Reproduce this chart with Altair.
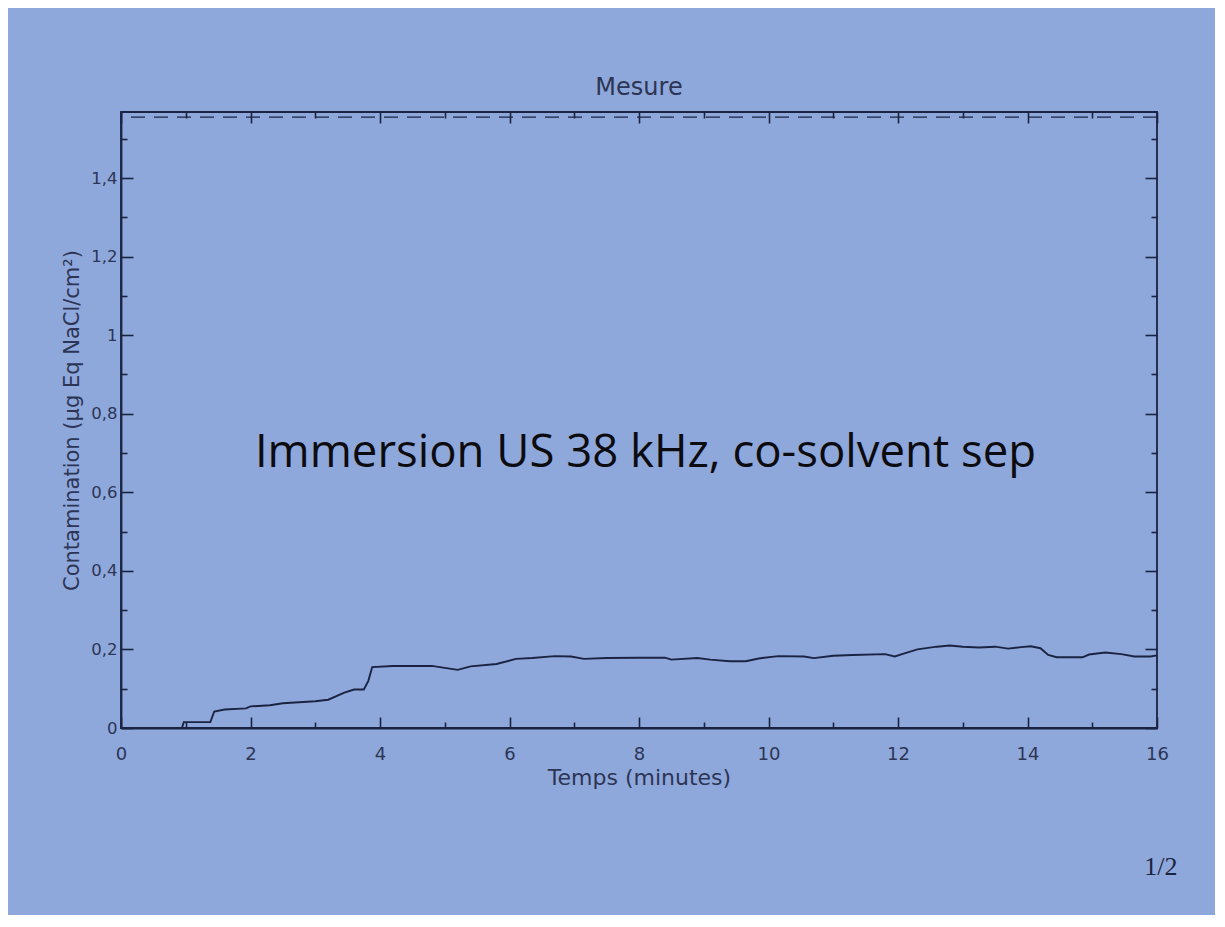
import altair as alt
import pandas as pd

# ---------------- data ----------------
time_min = [0.0, 0.5, 0.94, 0.97, 1.38, 1.44, 1.6, 1.93, 2.0, 2.3, 2.5, 3.0, 3.2, 3.45,
            3.6, 3.75, 3.82, 3.88, 4.2, 4.8, 5.0, 5.2, 5.4, 5.8, 6.1, 6.35, 6.7, 6.95,
            7.15, 7.5, 8.0, 8.4, 8.5, 8.9, 9.1, 9.4, 9.65, 9.85, 10.15, 10.55, 10.7,
            11.0, 11.3, 11.8, 11.95, 12.1, 12.3, 12.6, 12.8, 13.0, 13.25, 13.5, 13.7,
            13.9, 14.05, 14.2, 14.32, 14.45, 14.85, 14.95, 15.2, 15.45, 15.65, 15.9, 16.0]
contamination = [0.0, 0.0, 0.0, 0.015, 0.015, 0.042, 0.047, 0.05, 0.055, 0.058, 0.063,
                 0.068, 0.072, 0.09, 0.098, 0.098, 0.12, 0.155, 0.158, 0.158, 0.153,
                 0.148, 0.157, 0.163, 0.176, 0.178, 0.183, 0.182, 0.176, 0.178, 0.179,
                 0.179, 0.174, 0.178, 0.174, 0.17, 0.17, 0.177, 0.183, 0.182, 0.178,
                 0.184, 0.186, 0.188, 0.182, 0.19, 0.2, 0.207, 0.21, 0.207, 0.205,
                 0.207, 0.202, 0.206, 0.208, 0.203, 0.186, 0.18, 0.18, 0.187, 0.192,
                 0.188, 0.182, 0.182, 0.185]
x_major = [0, 2, 4, 6, 8, 10, 12, 14, 16]
x_minor = [1, 3, 5, 7, 9, 11, 13, 15]
y_major = [0, 0.2, 0.4, 0.6, 0.8, 1.0, 1.2, 1.4]
y_minor = [0.1, 0.3, 0.5, 0.7, 0.9, 1.1, 1.3, 1.5]
threshold = [1.555]
chart_title = "Mesure"
x_title = "Temps (minutes)"
y_title = "Contamination (µg Eq NaCl/cm²)"
annotation = ["Immersion US 38 kHz, co-solvent sep"]
page_label = ["1/2"]

df = pd.DataFrame({"t": time_min, "v": contamination})

W, H = 1036, 616
INK = "#1b2342"
LABEL = "#2c3555"
BG = "#8fa8db"
FONT = "DejaVu Sans"

xs = alt.Scale(domain=[0, 16], nice=False, zero=False)
ys = alt.Scale(domain=[0, 1.568], nice=False, zero=False)


def tick_axis(orient, values, size, offset):
    return alt.Axis(orient=orient, values=values, tickSize=size, offset=offset,
                    labels=False, domain=False, grid=False, title=None, ticks=True,
                    tickColor=INK, tickWidth=1.6)


main = alt.Chart(df).mark_line(color=INK, strokeWidth=1.9).encode(
    x=alt.X("t:Q", scale=xs,
            axis=alt.Axis(orient="bottom", values=x_major, ticks=False, tickSize=0,
                          grid=False, domainColor=INK, domainWidth=1.8,
                          labelFont=FONT, labelFontSize=18, labelColor=LABEL,
                          labelPadding=17, labelFlush=False,
                          title=x_title, titleFont=FONT, titleFontSize=22,
                          titleFontWeight="normal", titleColor=LABEL, titlePadding=4)),
    y=alt.Y("v:Q", scale=ys,
            axis=alt.Axis(orient="left", values=y_major, ticks=False, tickSize=0,
                          grid=False, domainColor=INK, domainWidth=1.8,
                          labelExpr="replace(format(datum.value, '~g'), '.', ',')",
                          labelFont=FONT, labelFontSize=16.5, labelColor=LABEL,
                          labelPadding=4, labelFlush=False,
                          title=y_title, titleFont=FONT, titleFontSize=21,
                          titleFontWeight="normal", titleColor=LABEL, titlePadding=8)),
)


def tick_layer(xo, xv, xsz, yo, yv, ysz):
    return alt.Chart(df).mark_line(opacity=0).encode(
        x=alt.X("t:Q", scale=xs, axis=tick_axis(xo, xv, xsz, -H)),
        y=alt.Y("v:Q", scale=ys, axis=tick_axis(yo, yv, ysz, -W)),
    )


ticks_a = tick_layer("top", x_major, 11, "right", y_major, 12)     # bottom / left, inward
ticks_b = tick_layer("top", x_minor, 6, "right", y_minor, 6)
ticks_c = tick_layer("bottom", x_major, 11, "left", y_major, 12)   # top / right, inward
ticks_d = tick_layer("bottom", x_minor, 6, "left", y_minor, 6)

dashed = alt.Chart(pd.DataFrame({"y": threshold})).mark_rule(
    color=INK, strokeWidth=1.4, strokeDash=[14, 9]
).encode(y=alt.Y("y:Q", scale=ys, axis=None))

note = alt.Chart(pd.DataFrame({"label": annotation})).mark_text(
    font="Open Sans", fontSize=45.5, color="#0c0c10", align="center", baseline="alphabetic"
).encode(
    x=alt.XDatum(8.1, type="quantitative", scale=xs, axis=None),
    y=alt.YDatum(0.665, type="quantitative", scale=ys, axis=None),
    text="label:N",
)

page = alt.Chart(pd.DataFrame({"label": page_label})).mark_text(
    font="Liberation Serif", fontSize=26, color=INK, align="center", baseline="alphabetic"
).encode(
    x=alt.XDatum(16.06, type="quantitative", scale=xs, axis=None),
    y=alt.YDatum(-0.375, type="quantitative", scale=ys, axis=None),
    text="label:N",
)

chart = alt.layer(main, ticks_a, ticks_b, ticks_c, ticks_d, dashed, note, page).resolve_axis(
    x="independent", y="independent"
).properties(
    width=W, height=H,
    autosize=alt.AutoSizeParams(type="none"),
    padding={"left": 113, "top": 104, "right": 58, "bottom": 187},
    background=BG,
    title=alt.TitleParams(chart_title, font=FONT, fontSize=24, fontWeight="normal",
                          color=LABEL, anchor="middle", offset=11),
).configure_view(stroke=INK, strokeWidth=1.8)

chart.save("out.html", embed_options={"renderer": "svg", "actions": False})
